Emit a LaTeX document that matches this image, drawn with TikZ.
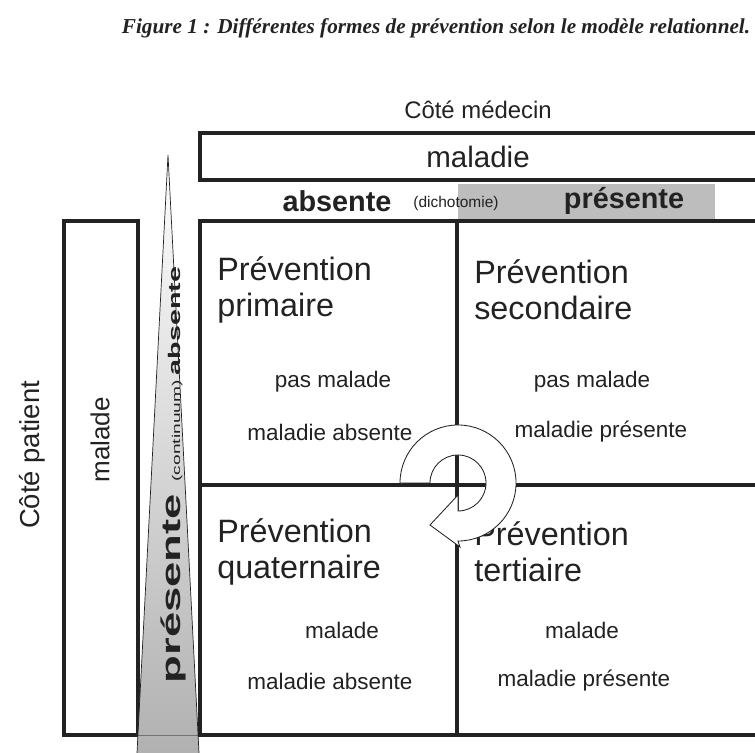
\documentclass[tikz,border=0pt]{standalone}
\usepackage{fontspec}
\setmainfont{Liberation Sans}
\newfontfamily\capfont{Liberation Serif}
\usepackage{xcolor}
\usetikzlibrary{calc, positioning}

\definecolor{ink}{HTML}{222222}
\definecolor{bandgray}{HTML}{BDBDBD}

\tikzset{
    heavy/.style={draw=ink, line width=3.5pt},
    bigtext/.style={font=\fontsize{23}{25.5}\selectfont, align=left, anchor=west},
    smalltext/.style={font=\fontsize{16}{18}\selectfont},
    boldtext/.style={font=\bfseries\fontsize{20.5}{22}\selectfont}
}

\begin{document}
\begin{tikzpicture}[x=0.025cm, y=-0.025cm, every node/.style={text=ink, inner sep=0pt}]
        \useasboundingbox (0,0) rectangle (755,753);

        % title of the figure
        \node[font=\capfont\bfseries\itshape\fontsize{15.1}{17}\selectfont] at (436,28) (caption) {Figure 1 : Différentes formes de prévention selon le modèle relationnel.};

        % doctor side
        \node[font=\fontsize{17}{19}\selectfont] at (478,110) (medecin) {Côté médecin};
        \fill[bandgray] (458,184) rectangle (715,219);
        \draw[heavy] (200,133) rectangle (790,180);
        \node[font=\fontsize{21}{23}\selectfont] at (478,157) (maladie) {maladie};
        \node[boldtext] at (337,201) (absH) {absente};
        \node[font=\fontsize{11}{13}\selectfont] at (456,204) (dicho) {(dichotomie)};
        \node[boldtext] at (624,201) (presH) {présente};

        % patient side
        \node[font=\fontsize{19.5}{22}\selectfont, rotate=90] at (32,455) (patient) {Côté patient};
        \draw[heavy] (64,221) rectangle (138,735);
        \node[font=\fontsize{18.5}{22}\selectfont, rotate=90] at (100,440) (malade) {malade};

        % continuum wedge
        \shade[top color=white, bottom color=black!32] (168,155) -- (135.6,780) -- (200.4,780) -- cycle;
        \draw[black!55, line width=0.4pt] (138,735) -- (199,735);
        \node[rotate=90, xscale=1.7] at (173,475) (continuum) {\bfseries\fontsize{19}{19}\selectfont présente \mdseries\fontsize{8}{9}\selectfont(continuum) \bfseries\fontsize{12}{13}\selectfont absente};
        \draw[ink, line width=0.5pt] (135.6,780) -- (168,155) -- (200.4,780);

        % the four forms
        \draw[heavy] (200,221) rectangle (790,735);
        \draw[heavy] (457,221) -- (457,735)
            (200,485) -- (790,485);

        \node[bigtext] at (217,290) (primaire) {Prévention\\primaire};
        \node[smalltext] at (333,382) (pm1) {pas malade};
        \node[smalltext] at (330,432) (ma1) {maladie absente};

        \node[bigtext] at (474,290) (secondaire) {Prévention\\secondaire};
        \node[smalltext] at (592,382) (pm2) {pas malade};
        \node[smalltext] at (601,432) (mp2) {maladie présente};

        \node[bigtext] at (217,552) (quaternaire) {Prévention\\quaternaire};
        \node[smalltext] at (342,630) (m3) {malade};
        \node[smalltext] at (330,681) (ma3) {maladie absente};

        \node[bigtext] at (474,552) (tertiaire) {Prévention\\tertiaire};
        \node[smalltext] at (582,630) (m4) {malade};
        \node[smalltext] at (584,681) (mp4) {maladie présente};

        % turning arrow over the centre
        \coordinate (c) at (458,483);
        \draw[ink, fill=white, line width=0.6pt] ($(c)+(-58,0)$) arc[start angle=180, end angle=-90, radius=1.45cm]
            -- ($(c)+(2,64)$) -- ($(c)+(-28,42)$) -- ($(c)+(0,12)$) -- ($(c)+(0,28)$)
            arc[start angle=-90, end angle=180, radius=0.7cm] -- cycle;
    \end{tikzpicture}
\end{document}
